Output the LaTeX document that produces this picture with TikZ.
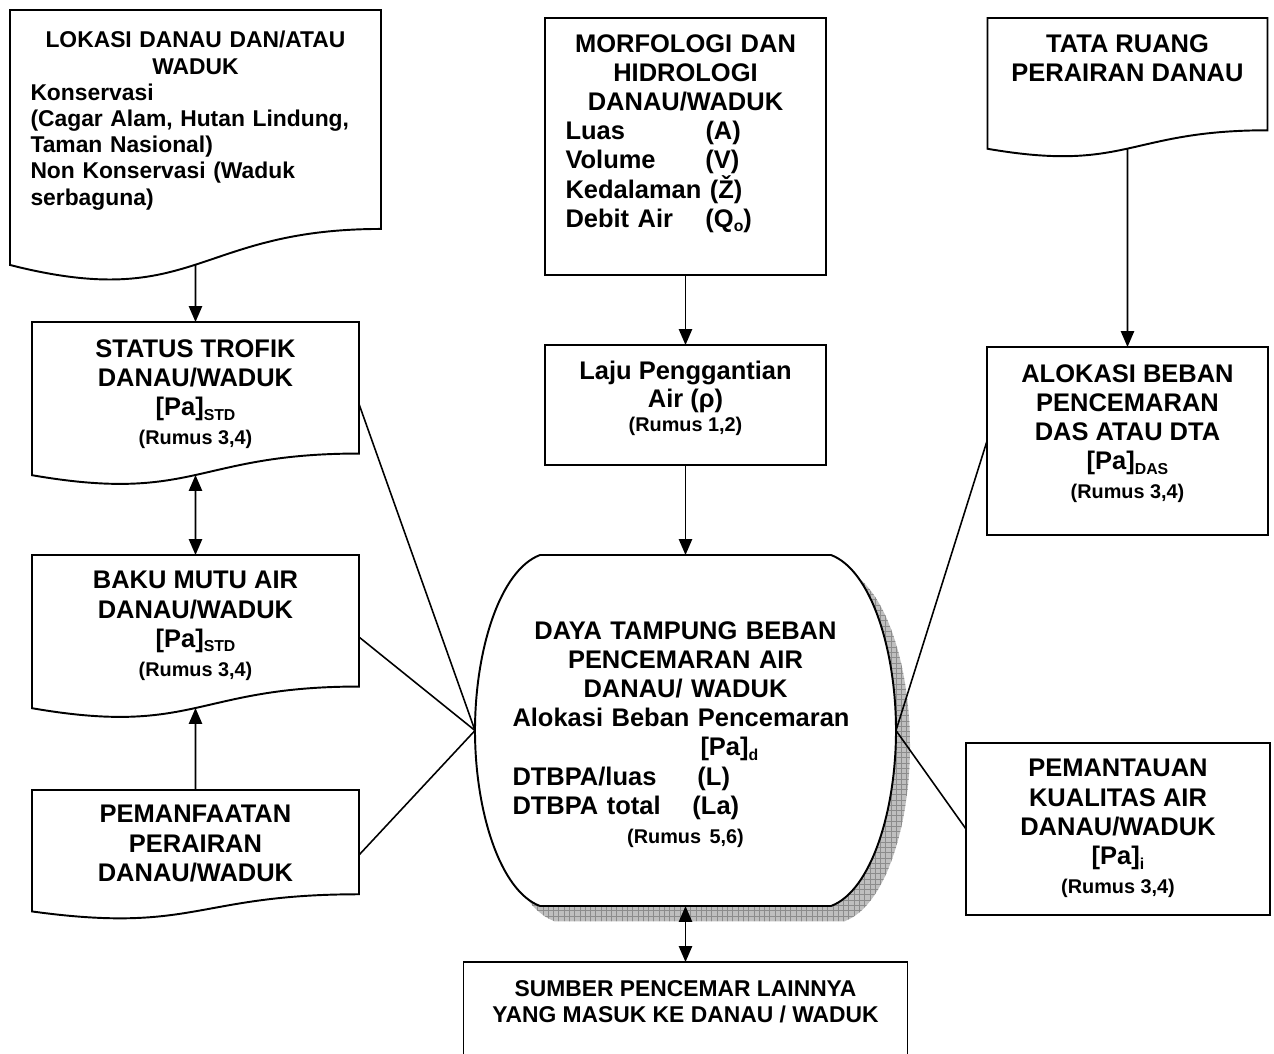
\documentclass[tikz,border=0pt]{standalone}
\usepackage{fontspec}
\setmainfont{Liberation Sans}
\usetikzlibrary{
    arrows.meta,
    calc,
    patterns,
    positioning
}
\newcommand{\bigfont}{\fontsize{14.5pt}{16.6pt}\selectfont\bfseries}
\newcommand{\midfont}{\fontsize{13pt}{14.9pt}\selectfont\bfseries}
\newcommand{\rumus}[1]{{\fontsize{11.3pt}{13pt}\selectfont #1}}
\newcommand{\idx}[1]{\raisebox{-0.35ex}{\fontsize{9pt}{9pt}\selectfont #1}}
\newcommand{\lft}[1]{\makebox[\hsize][l]{#1}}
\tikzset{
    boxline/.style={
        draw=black,
        line width=1.1pt
    },
    shapebox/.style={
        rectangle,
        inner sep=0pt,
        outer sep=0pt
    },
    plainbox/.style={
        shapebox,
        boxline,
        fill=white
    },
    boxtext/.style={
        inner sep=0pt,
        align=center,
        font=\bigfont
    },
    flow/.style={
        -{Triangle[length=9pt, width=7.5pt]},
        line width=0.9pt
    },
    both flow/.style={
        {Triangle[length=9pt, width=7.5pt]}-{Triangle[length=9pt, width=7.5pt]},
        line width=0.9pt
    },
    link/.style={
        line width=0.9pt
    }
}
% document outline with a wavy foot, drawn over a shapebox node
\newcommand{\drawdoc}[1]{%
    \draw[boxline] (#1.north west) -- (#1.north east)
        -- ($(#1.north east)!0.802!(#1.south east)$)
        .. controls ($(#1.north)!0.802!(#1.south)$)
        and ($(#1.north)!1.107!(#1.south)$)
        .. ($(#1.north west)!0.934!(#1.south west)$) -- cycle;
    \coordinate (#1 foot) at ($(#1.north)!0.933!(#1.south)$);
}
\newcommand{\drumpath}{(-2.91,3.51) -- (2.91,3.51)
    .. controls (3.71,3.21) and (4.21,1.61) .. (4.21,0)
    .. controls (4.21,-1.61) and (3.71,-3.21) .. (2.91,-3.51)
    -- (-2.91,-3.51)
    .. controls (-3.71,-3.21) and (-4.21,-1.61) .. (-4.21,0)
    .. controls (-4.21,1.61) and (-3.71,3.21) .. (-2.91,3.51) -- cycle}
\newcommand{\drawdrum}[1]{%
    \begin{scope}[shift={(#1.center)}]
        \begin{scope}[shift={(0.28,-0.30)}]
            \fill[black!25] \drumpath;
            \fill[pattern=grid, pattern color=black!45] \drumpath;
        \end{scope}
        \draw[boxline, fill=white] \drumpath;
    \end{scope}
}

\begin{document}
\begin{tikzpicture}

    \useasboundingbox (0,0) rectangle (25.48,-21.06);
    \clip (0,0) rectangle (25.48,-21.06);
    \fill[white] (0,0) rectangle (25.48,-21.06);

    % -------------------------------------------------------------------------
    % Left column.
    % -------------------------------------------------------------------------
    \node[shapebox, minimum width=7.42cm, minimum height=5.46cm] (lokasi)
        at (3.91,-2.93) {};
    \drawdoc{lokasi}
    \node[boxtext, font=\midfont, text width=6.6cm, below=0.42cm of lokasi.north]
        (lokasi text) {%
        LOKASI DANAU DAN/ATAU\\
        WADUK\\
        \lft{Konservasi}\\
        \lft{(Cagar Alam, Hutan Lindung,}\\
        \lft{Taman Nasional)}\\
        \lft{Non Konservasi (Waduk}\\
        \lft{serbaguna)}};

    \node[shapebox, minimum width=6.54cm, minimum height=3.28cm] (status)
        at (3.91,-8.08) {};
    \drawdoc{status}
    \node[boxtext, below=0.34cm of status.north] (status text)
        {STATUS TROFIK\\DANAU/WADUK\\{[Pa]}\idx{STD}\\\rumus{(Rumus 3,4)}};

    \node[shapebox, minimum width=6.54cm, minimum height=3.28cm] (baku)
        at (3.91,-12.74) {};
    \drawdoc{baku}
    \node[boxtext, below=0.32cm of baku.north] (baku text)
        {BAKU MUTU AIR\\DANAU/WADUK\\{[Pa]}\idx{STD}\\\rumus{(Rumus 3,4)}};

    \node[shapebox, minimum width=6.54cm, minimum height=2.60cm] (pemanfaatan)
        at (3.91,-17.10) {};
    \drawdoc{pemanfaatan}
    \node[boxtext, below=0.30cm of pemanfaatan.north] (pemanfaatan text)
        {PEMANFAATAN\\PERAIRAN\\DANAU/WADUK};

    % -------------------------------------------------------------------------
    % Centre column.
    % -------------------------------------------------------------------------
    \node[plainbox, minimum width=5.62cm, minimum height=5.14cm] (morfologi)
        at (13.71,-2.93) {};
    \node[boxtext, text width=4.8cm, below=0.32cm of morfologi.north]
        (morfologi text) {%
        MORFOLOGI DAN\\
        HIDROLOGI\\
        DANAU/WADUK\\
        \lft{\makebox[2.8cm][l]{Luas}(A)}\\
        \lft{\makebox[2.8cm][l]{Volume}(V)}\\
        \lft{Kedalaman (Ž)}\\
        \lft{\makebox[2.8cm][l]{Debit Air}(Q\idx{o})}};

    \node[plainbox, minimum width=5.62cm, minimum height=2.40cm] (laju)
        at (13.71,-8.10) {};
    \node[boxtext, below=0.32cm of laju.north] (laju text)
        {Laju Penggantian\\[-1pt]Air (ρ)\\[-3pt]\rumus{(Rumus 1,2)}};

    \node[shapebox, minimum width=8.42cm, minimum height=7.02cm] (daya)
        at (13.71,-14.61) {};
    \drawdrum{daya}
    \node[boxtext, text width=6.92cm, below=1.32cm of daya.north] (daya text) {%
        DAYA TAMPUNG BEBAN\\
        PENCEMARAN AIR\\
        DANAU/ WADUK\\
        \lft{Alokasi Beban Pencemaran}\\
        \lft{\hspace*{3.76cm}[Pa]\idx{d}}\\
        \lft{\makebox[3.7cm][l]{DTBPA/luas}(L)}\\
        \lft{\makebox[3.6cm][l]{DTBPA total}(La)}\\
        \rumus{(Rumus 5,6)}};

    \node[plainbox, minimum width=8.88cm, minimum height=2.96cm] (sumber)
        at (13.71,-20.72) {};
    \node[boxtext, font=\midfont, below=0.36cm of sumber.north] (sumber text)
        {SUMBER PENCEMAR LAINNYA\\YANG MASUK KE DANAU / WADUK};

    % -------------------------------------------------------------------------
    % Right column.
    % -------------------------------------------------------------------------
    \node[shapebox, minimum width=5.60cm, minimum height=2.80cm] (tata)
        at (22.55,-1.76) {};
    \drawdoc{tata}
    \node[boxtext, below=0.32cm of tata.north] (tata text)
        {TATA RUANG\\PERAIRAN DANAU};

    \node[plainbox, minimum width=5.62cm, minimum height=3.76cm] (alokasi)
        at (22.55,-8.82) {};
    \node[boxtext, below=0.34cm of alokasi.north] (alokasi text)
        {ALOKASI BEBAN\\PENCEMARAN\\DAS ATAU DTA\\{[Pa]}\idx{DAS}\\\rumus{(Rumus 3,4)}};

    \node[plainbox, minimum width=6.08cm, minimum height=3.44cm] (pemantauan)
        at (22.36,-16.58) {};
    \node[boxtext, below=0.32cm of pemantauan.north] (pemantauan text)
        {PEMANTAUAN\\KUALITAS AIR\\DANAU/WADUK\\{[Pa]}\idx{i}\\\rumus{(Rumus 3,4)}};

    % Connectors.
    \draw[flow] (lokasi foot) -- (status.north);
    \draw[both flow] (status foot) -- (baku.north);
    \draw[flow] (pemanfaatan.north) -- (baku foot);
    \draw[flow] (morfologi.south) -- (laju.north);
    \draw[flow] (laju.south) -- (daya.north);
    \draw[flow] (tata foot) -- (alokasi.north);
    \draw[both flow] (daya.south) -- (sumber.north);

    \draw[link] (status.east) -- (daya.west);
    \draw[link] (baku.east) -- (daya.west);
    \draw[link] (pemanfaatan.east) -- (daya.west);
    \draw[link] (alokasi.west) -- (daya.east);
    \draw[link] (pemantauan.west) -- (daya.east);

\end{tikzpicture}
\end{document}
